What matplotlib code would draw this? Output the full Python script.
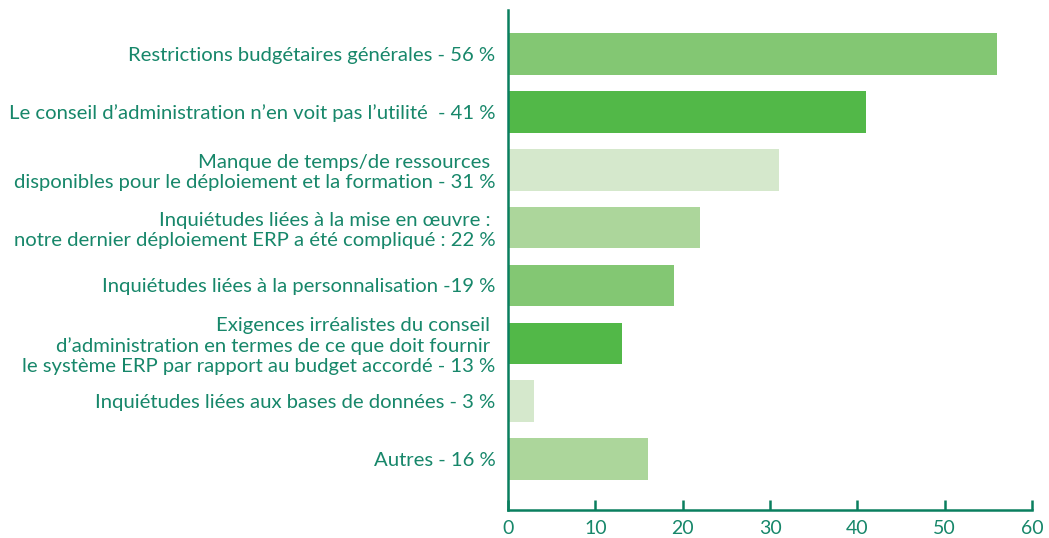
import matplotlib
matplotlib.use("Agg")
import matplotlib.pyplot as plt

# data, top to bottom
labels = [
    "Restrictions budgétaires générales - 56 %",
    "Le conseil d\u2019administration n\u2019en voit pas l\u2019utilité  - 41 %",
    "Manque de temps/de ressources \ndisponibles pour le déploiement et la formation - 31 %",
    "Inquiétudes liées à la mise en œuvre : \nnotre dernier déploiement ERP a été compliqué : 22 %",
    "Inquiétudes liées à la personnalisation -19 %",
    "Exigences irréalistes du conseil \nd\u2019administration en termes de ce que doit fournir \nle système ERP par rapport au budget accordé - 13 %",
    "Inquiétudes liées aux bases de données - 3 %",
    "Autres - 16 %",
]
values = [56, 41, 31, 22, 19, 13, 3, 16]
bar_colors = ["#83c773", "#52b848", "#d5e8cc", "#acd69b"]
x_ticks = [0, 10, 20, 30, 40, 50, 60]

TEXT = "#17876a"
AXIS = "#0a7f5f"

plt.rcParams["font.family"] = ["Lato", "DejaVu Sans"]

fig = plt.figure(figsize=(10.49, 5.38), dpi=100)
ax = fig.add_axes([0.4843, 0.0520, 0.4995, 0.9294])

pos = list(range(len(values)))
colors = [bar_colors[i % len(bar_colors)] for i in pos]
ax.barh(pos, values, height=0.72, color=colors, zorder=2)

ax.set_ylim(len(values) - 1 + 0.88, -0.76)
ax.set_xlim(0, 60)
ax.set_xticks(x_ticks)
ax.set_xticklabels([str(t) for t in x_ticks])
ax.set_yticks(pos)
ax.set_yticklabels(labels)

for s in ["top", "right"]:
    ax.spines[s].set_visible(False)
for s in ["left", "bottom"]:
    ax.spines[s].set_color(AXIS)
    ax.spines[s].set_linewidth(1.8)

ax.tick_params(axis="x", direction="in", length=7, width=1.8, color=AXIS,
               labelcolor=TEXT, labelsize=14, pad=7)
ax.tick_params(axis="y", length=0, labelcolor=TEXT, labelsize=14.6, pad=9)

fig.savefig("out.png", dpi=100)
